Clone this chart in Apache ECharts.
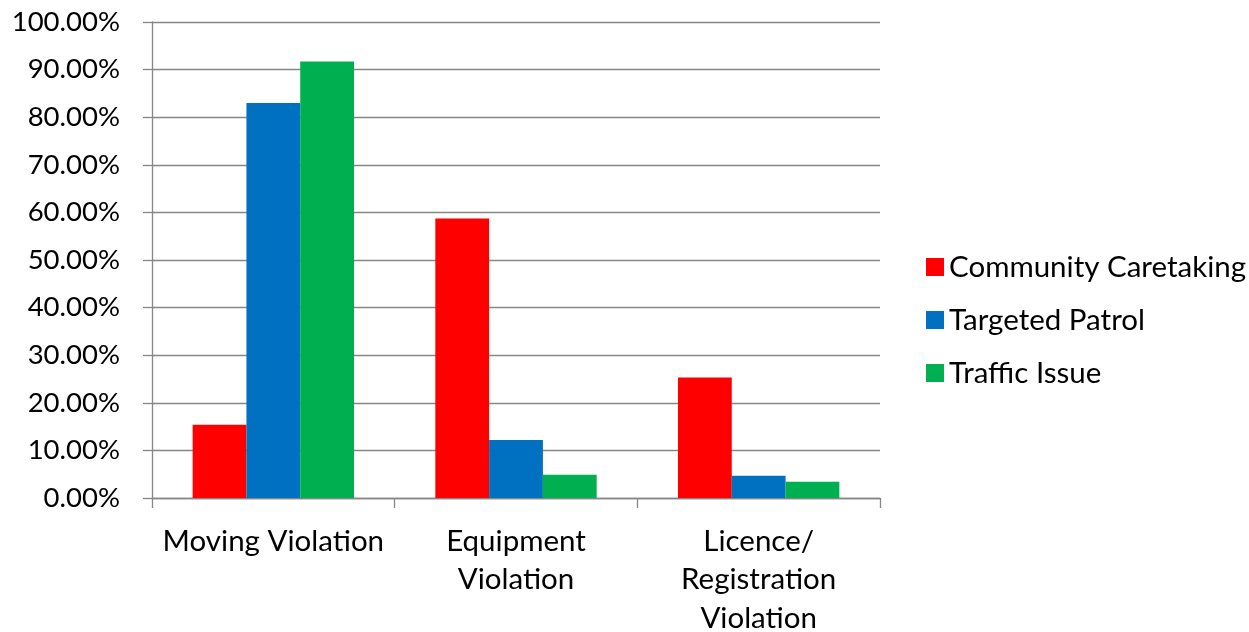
<!DOCTYPE html>
<html><head><meta charset="utf-8">
<script src="https://cdn.jsdelivr.net/npm/echarts@6/dist/echarts.min.js"></script>
<style>html,body{margin:0;padding:0;background:#fff}#c{width:1249px;height:632px}</style>
</head><body><div id="c"></div>
<script>
var categories = ['Moving Violation', 'Equipment\nViolation', 'Licence/\nRegistration\nViolation'];
var seriesNames = ['Community Caretaking', 'Targeted Patrol', 'Traffic Issue'];
var communityCaretaking = [15.4, 58.7, 25.3];
var targetedPatrol = [83.0, 12.2, 4.7];
var trafficIssue = [91.7, 4.9, 3.4];
var colors = ['#FF0000', '#0070C0', '#00B050'];
var FONT = 'Lato';
var chart = echarts.init(document.getElementById('c'));
var data = [communityCaretaking, targetedPatrol, trafficIssue];
chart.setOption({
  animation: false,
  textStyle: {fontFamily: FONT},
  grid: {left: 152, right: 369, top: 22, bottom: 134, outerBoundsMode: 'none', containLabel: false},
  legend: {
    orient: 'vertical', left: 921, top: 247, itemWidth: 18, itemHeight: 18, itemGap: 23,
    icon: 'rect',
    textStyle: {fontFamily: FONT, fontSize: 29.5, color: '#000'},
    data: seriesNames
  },
  xAxis: {
    type: 'category', data: categories,
    axisLine: {lineStyle: {color: '#868686', width: 1.3}},
    axisTick: {show: true, length: 10, alignWithLabel: false, lineStyle: {color: '#868686', width: 1.3}},
    axisLabel: {fontFamily: FONT, fontSize: 29.5, color: '#000', margin: 24, lineHeight: 38.5, interval: 0}
  },
  yAxis: {
    type: 'value', min: 0, max: 100, interval: 10,
    axisLine: {show: true, lineStyle: {color: '#868686', width: 1.3}},
    axisTick: {show: true, length: 9, lineStyle: {color: '#868686', width: 1.3}},
    splitLine: {lineStyle: {color: '#868686', width: 1.3}},
    axisLabel: {fontFamily: FONT, fontSize: 27.5, color: '#000', margin: 32,
      formatter: function (v) { return v.toFixed(2) + '%'; }}
  },
  series: seriesNames.map(function (n, i) {
    return {name: n, type: 'bar', data: data[i], barGap: '0%', barCategoryGap: '33.5%',
      itemStyle: {color: colors[i]}};
  })
});
</script></body></html>
